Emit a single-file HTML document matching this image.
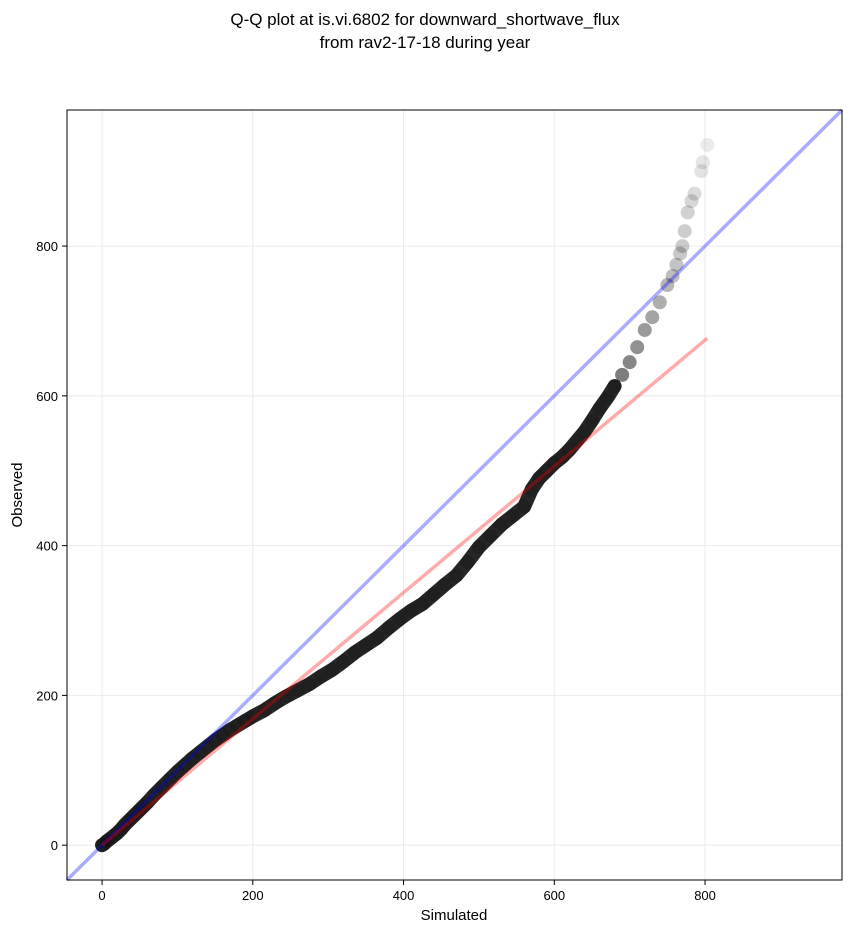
<!DOCTYPE html>
<html><head><meta charset="utf-8"><style>
body{margin:0;background:#fff;font-family:"Liberation Sans",sans-serif}
svg{display:block}
</style></head><body>
<svg id="chart" width="851" height="934">
<text x="425" y="25" text-anchor="middle" font-size="17">Q-Q plot at is.vi.6802 for downward_shortwave_flux</text>
<text x="425" y="48" text-anchor="middle" font-size="17">from rav2-17-18 during year</text>
<g id="grid"></g><g id="pts"></g><g id="lines"></g><g id="axes"></g>
<text x="454" y="920" text-anchor="middle" font-size="15">Simulated</text>
<text x="0" y="0" transform="translate(22,495) rotate(-90)" text-anchor="middle" font-size="15">Observed</text>
</svg>
<script>
const ticks=[0,200,400,600,800];
const tickLabels=["0","200","400","600","800"];
const simulated=[0,3,6,10,15,20,25,30,35,40,45,50,55,60,70,80,90,100,110,120,130,140,150,160,170,180,190,200,215,230,245,260,275,290,305,320,335,350,365,380,395,410,425,440,455,470,485,500,515,530,545,560,570,580,590,600,610,620,630,640,650,660,670,680,690,700,710,720,730,740,750,757,762,767,770,773,777,782,786,795,797,803];
const observed=[0,2,5,8,12,16,21,27,32,37,42,47,52,57,68,78,88,98,107,116,124,132,140,147,154,160,166,172,180,190,199,207,215,225,234,245,257,267,277,290,302,313,322,335,348,360,378,398,413,428,440,452,475,490,500,510,518,528,540,552,567,583,597,613,628,645,665,688,705,725,748,760,775,790,800,820,845,860,870,900,912,935];
const fitLine=[[0,0],[803,677]];
const lo=-46.5,hi=981.7;
const L=67,R=842,T=110,B=880;
const sx=v=>L+(v-lo)/(hi-lo)*(R-L);
const sy=v=>B-(v-lo)/(hi-lo)*(B-T);
const NS="http://www.w3.org/2000/svg";
function mk(tag,attrs,parent){const e=document.createElementNS(NS,tag);for(const k in attrs)e.setAttribute(k,attrs[k]);parent.appendChild(e);return e;}
const grid=document.getElementById('grid'),axes=document.getElementById('axes'),pts=document.getElementById('pts'),lines=document.getElementById('lines');
ticks.forEach((t,i)=>{
 let g=mk('line',{x1:sx(t),x2:sx(t),y1:T,y2:B,stroke:'#ebebeb','stroke-width':1},grid);
 
 
 g=mk('line',{x1:L,x2:R,y1:sy(t),y2:sy(t),stroke:'#ebebeb','stroke-width':1},grid);
 
 
 let k=mk('line',{x1:sx(t),x2:sx(t),y1:B,y2:B+5,stroke:'#000'},axes);
 
 
 let tx=mk('text',{x:sx(t),y:B+20,'text-anchor':'middle','font-size':13},axes);tx.textContent=tickLabels[i];
 
 
 k=mk('line',{x1:L-5,x2:L,y1:sy(t),y2:sy(t),stroke:'#000'},axes);
 
 
 tx=mk('text',{x:L-9,y:sy(t)+5,'text-anchor':'end','font-size':13},axes);tx.textContent=tickLabels[i];
 
 
});
const fr=mk('rect',{x:L,y:T,width:R-L,height:B-T,fill:'none',stroke:'#000'},axes);


const dense=simulated.map((s,i)=>[s,observed[i]]).filter(p=>p[0]<=680);
const d=dense.map((p,i)=>(i?'L':'M')+sx(p[0])+' '+sy(p[1])).join(' ');
const band=mk('path',{d:d,fill:'none',stroke:'#000','stroke-opacity':0.85,'stroke-width':14,'stroke-linecap':'round','stroke-linejoin':'round'},pts);


simulated.forEach((s,i)=>{
 let op;
 if(s<=680) op=0.15; else op=Math.max(0.07,0.55-(s-680)/125*0.48);
 const c=mk('circle',{cx:sx(s),cy:sy(observed[i]),r:7,fill:'#000','fill-opacity':op},pts);
 
 
});
const ln=mk('line',{x1:sx(lo),y1:sy(lo),x2:sx(hi),y2:sy(hi),stroke:'#0000ff','stroke-opacity':0.33,'stroke-width':3.5},lines);


const fl=mk('line',{x1:sx(fitLine[0][0]),y1:sy(fitLine[0][1]),x2:sx(fitLine[1][0]),y2:sy(fitLine[1][1]),stroke:'#ff0000','stroke-opacity':0.33,'stroke-width':3.5},lines);


</script>
</body></html>
